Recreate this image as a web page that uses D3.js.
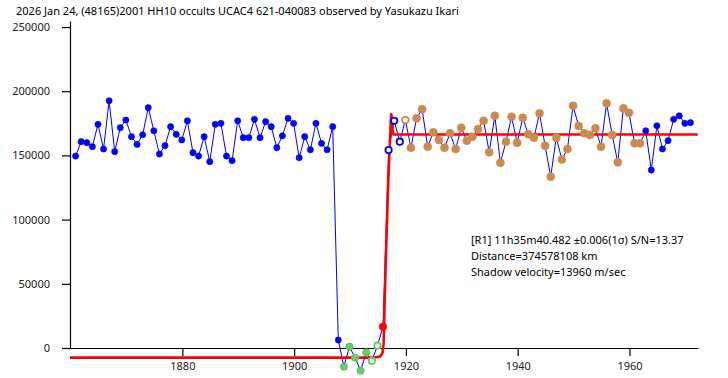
<!DOCTYPE html>
<html>
<head>
<meta charset="utf-8">
<script src="https://cdn.jsdelivr.net/npm/d3@7"></script>
<style>
  body { margin: 0; background: #fff; }
  text { font-family: "Noto Sans", "Open Sans", sans-serif; }
</style>
</head>
<body>
<div id="wrapper"></div>
<script>
/* global d3 */

// chart texts
const titleText = "2026 Jan 24, (48165)2001 HH10 occults UCAC4 621-040083 observed by Yasukazu Ikari"
const resultLines = [
  "[R1] 11h35m40.482 \u00b10.006(1\u03c3) S/N=13.37",
  "Distance=374578108 km",
  "Shadow velocity=13960 m/sec",
]

// tick labels
const xTicks = [1880, 1900, 1920, 1940, 1960]
const yTicks = [0, 50000, 100000, 150000, 200000, 250000]

// time of first sample, samples are one unit apart
const firstTime = 1860.9
const sampleStep = 1

// measured brightness, in order, split by how the point is drawn
const beforeValues = [
  149500, 160700, 159900, 156800, 174200, 155000, 192600, 152900, 171600, 177600,
  164600, 158600, 166100, 187200, 169200, 151100, 157600, 172400, 166400, 162000,
  177000, 152100, 149500, 164600, 145100, 174200, 175000, 149500, 145900, 177000,
  163800, 163800, 178100, 163800, 176300, 172400, 156000, 165300, 178900, 175000,
  148200, 164600, 154400, 175000, 159400, 154400, 172400, 6200,
]
const occultedValues = [-14500, 1000, -7500, -17700, -3400]
const occultedOpenValues = [-10100, 1800]
const eventValues = [16600]
const risingOpenValues = [154200, 177000, 160700]
const recoveryOpenValues = [177600]
const recoveryValues = [
  156000, 178900, 185900, 156800, 168000, 162000, 156000, 167200, 155000, 171600,
  161500, 164600, 170600, 177000, 152400, 180900, 144300, 160700, 180100, 159900,
  179400, 166400, 163800, 182800, 157600, 133400, 163800, 146900, 155000, 188700,
  172900, 167200, 165900, 171100, 156800, 190600, 165900, 144600, 186700, 183200,
  159400, 159400,
]
const afterValues = [169200, 138600, 173100, 155000, 161500, 178100, 180900, 175000, 175500]

// fitted light curve model (knots)
const modelTimes = [1859.9, 1913.2, 1914.6, 1915.4, 1915.8, 1916.0, 1916.1, 1916.15,
  1916.45, 1916.85, 1917.15, 1917.35, 1917.5, 1917.6, 1917.8, 1972.2]
const modelValues = [-7500, -7500, -7200, -6600, -4000, 3000, 16600, 30000,
  76000, 131000, 162000, 182000, 179000, 170000, 166300, 166300]

function drawChart() {

  // group styles
  const groups = [
    { values: beforeValues, kind: "blueDot" },
    { values: occultedValues, kind: "greenDot" },
    { values: occultedOpenValues, kind: "greenRing" },
    { values: eventValues, kind: "redDot" },
    { values: risingOpenValues, kind: "blueRing" },
    { values: recoveryOpenValues, kind: "brownRing" },
    { values: recoveryValues, kind: "brownDot" },
    { values: afterValues, kind: "blueDot" },
  ]

  // flatten to one list of samples
  const data = []
  groups.forEach(g => {
    g.values.forEach(v => {
      data.push({ time: firstTime + data.length * sampleStep, value: v, kind: g.kind })
    })
  })

  const xAccessor = d => d.time
  const yAccessor = d => d.value

  let dimensions = {
    width: 728,
    height: 378,
    margins: {
      top: 21,
      right: 30.3,
      bottom: 30,
      left: 70,
    }
  }
  dimensions.boundedWidth = dimensions.width
    - dimensions.margins.left
    - dimensions.margins.right
  dimensions.boundedHeight = dimensions.height
    - dimensions.margins.top
    - dimensions.margins.bottom

  const wrapper = d3.select("#wrapper")
    .append("svg")
      .attr("width", dimensions.width)
      .attr("height", dimensions.height)

  wrapper.append("text")
    .attr("x", 16)
    .attr("y", 15)
    .attr("fill", "#000")
    .style("font-size", "11px")
    .text(titleText)

  const bounds = wrapper.append("g")
    .attr("transform", `translate(${dimensions.margins.left}, ${dimensions.margins.top})`)

  // scales
  const xScale = d3.scaleLinear()
    .domain([1859.9, 1972.2])
    .range([0, dimensions.boundedWidth])

  const yScale = d3.scaleLinear()
    .domain([0, 254700])
    .range([dimensions.boundedHeight, 0])

  // axes
  const yAxisGenerator = d3.axisLeft(yScale)
    .tickValues(yTicks)
    .tickFormat(d3.format("d"))
    .tickSize(8)
    .tickSizeOuter(0)
    .tickPadding(12)

  const yAxis = bounds.append("g")
    .call(yAxisGenerator)
  yAxis.selectAll("text")
    .style("font-family", "'Noto Sans', sans-serif")
    .style("font-size", "11px")
    .attr("fill", "#222")

  const xAxisGenerator = d3.axisBottom(xScale)
    .tickValues(xTicks)
    .tickFormat(d3.format("d"))
    .tickSize(8)
    .tickSizeOuter(0)
    .tickPadding(6)

  const xAxis = bounds.append("g")
    .attr("transform", `translate(0, ${dimensions.boundedHeight})`)
    .call(xAxisGenerator)
  xAxis.selectAll("text")
    .style("font-family", "'Noto Sans', sans-serif")
    .style("font-size", "11px")
    .attr("fill", "#222")

  bounds.selectAll(".domain, .tick line")
    .attr("stroke", "#000")
    .attr("stroke-width", 1.2)

  // data line
  const lineGenerator = d3.line()
    .x(d => xScale(xAccessor(d)))
    .y(d => yScale(yAccessor(d)))

  bounds.append("path")
    .attr("d", lineGenerator(data))
    .attr("fill", "none")
    .attr("stroke", "#0000ff")
    .attr("stroke-width", 1)

  // model line
  const modelLine = d3.line()
    .x((d, i) => xScale(modelTimes[i]))
    .y(d => yScale(d))

  bounds.append("path")
    .attr("d", modelLine(modelValues))
    .attr("fill", "none")
    .attr("stroke", "#ff0000")
    .attr("stroke-width", 2.6)
    .attr("stroke-linejoin", "round")

  // markers
  const markerStyle = {
    blueDot:   { r: 3.1, fill: "#0000ff", stroke: "#0000ff", sw: 0.6 },
    greenDot:  { r: 3.6, fill: "#66cc66", stroke: "#55bb55", sw: 0.8 },
    greenRing: { r: 3.2, fill: "#fff", stroke: "#66cc66", sw: 1.8 },
    redDot:    { r: 3.8, fill: "#ff0000", stroke: "#ff0000", sw: 0.6 },
    blueRing:  { r: 3.2, fill: "#fff", stroke: "#0000ff", sw: 1.8 },
    brownRing: { r: 3.3, fill: "#fff", stroke: "#cd8a4a", sw: 1.8 },
    brownDot:  { r: 4.0, fill: "#cd8a4a", stroke: "#cd8a4a", sw: 0.6 },
  }

  bounds.append("g")
    .selectAll("circle")
    .data(data)
    .join("circle")
      .attr("cx", d => xScale(xAccessor(d)))
      .attr("cy", d => yScale(yAccessor(d)))
      .attr("r", d => markerStyle[d.kind].r)
      .attr("fill", d => markerStyle[d.kind].fill)
      .attr("stroke", d => markerStyle[d.kind].stroke)
      .attr("stroke-width", d => markerStyle[d.kind].sw)

  // result text
  wrapper.append("g")
    .selectAll("text")
    .data(resultLines)
    .join("text")
      .attr("x", 471)
      .attr("y", (d, i) => 244 + i * 16)
      .attr("fill", "#000")
      .style("font-size", "11px")
      .text(d => d)
}

drawChart()
</script>
</body>
</html>
